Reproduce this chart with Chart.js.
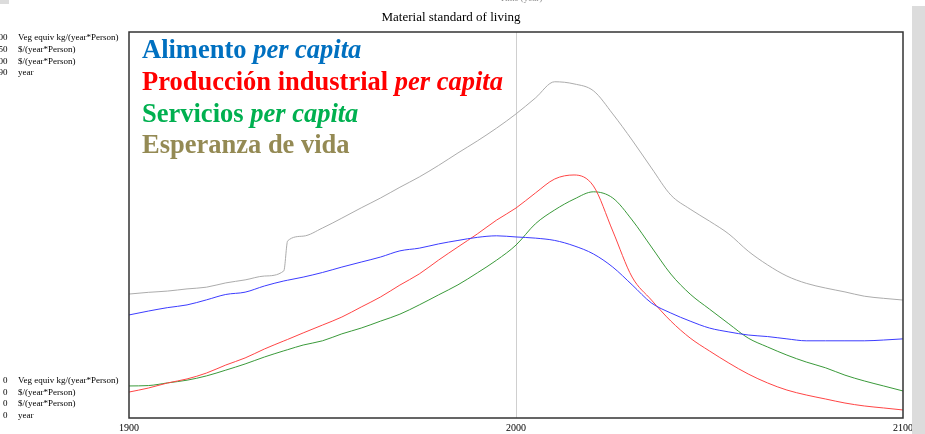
<!DOCTYPE html>
<html>
<head>
<meta charset="utf-8">
<script src="https://cdn.jsdelivr.net/npm/chart.js@4"></script>
<style>
  body { margin: 0; background: #fff; }
  canvas { display: block; }
</style>
</head>
<body>
<canvas id="myChart" width="925" height="434"></canvas>
<script>

var years = [1900,1905,1910,1915,1920,1925,1930,1935,1940,1941,1945,1950,1955,1960,1965,1970,1975,1980,1985,1990,1995,
             2000,2005,2010,2015,2020,2025,2030,2035,2040,2045,2050,2055,2060,2065,2070,2075,2080,2085,2090,2095,2100];

// Veg equiv kg/(year*Person), 0..1000
var food = [267,277,286,293,306,320,326,342,355,357,365,377,391,404,417,433,440,451,460,468,472,
            469,466,460,446,425,391,345,298,272,251,233,223,215,211,205,200,200,200,200,202,205];
// $/(year*Person), 0..250
var industry = [16.8,19.4,22.7,25.3,29.1,34.3,38.9,44.7,49.9,50.9,55.1,60.2,65.4,71.9,78.4,86.1,93.3,102.3,110.8,119.2,128.2,
                136.0,145.7,154.8,157.4,150.3,121.1,91.3,76.4,62.8,51.8,43.4,35.6,28.5,22.7,18.1,14.9,12.3,9.7,7.8,6.5,5.2];
// $/(year*Person), 0..1000
var services = [83,84,91,98,109,124,140,158,174,177,189,200,218,233,251,269,293,319,345,376,409,
                448,503,539,567,586,570,513,443,373,321,282,244,207,184,163,145,130,111,96,83,70];
// year, 0..90
var lifeExp = [28.9,29.3,29.6,30.1,30.5,31.5,32.2,33.1,34.3,41.3,42.4,44.3,46.6,49.0,51.3,53.8,56.2,58.9,61.8,64.6,67.6,
               70.9,74.6,78.4,77.9,76.3,70.9,64.8,58.3,52.0,48.7,45.9,42.9,38.9,35.7,33.1,31.4,30.3,29.4,28.4,27.9,27.5];

var axisMax = [1000, 250, 1000, 90];
var axisUnits = ["Veg equiv kg/(year*Person)", "$/(year*Person)", "$/(year*Person)", "year"];
var lineColors = ["#3c3cff", "#ff4545", "#3a9a3a", "#acacac"];

var legendLines = [
  ["Alimento ", "per capita", "#0070C0"],
  ["Producción industrial ", "per capita", "#FF0000"],
  ["Servicios ", "per capita", "#00B050"],
  ["Esperanza de vida", "", "#948A54"]
];

function pts(arr) {
  return years.map(function (y, i) { return { x: y, y: arr[i] }; });
}

var serif = "'Liberation Serif', 'Times New Roman', serif";

var decor = {
  id: "decor",
  beforeDraw: function (chart) {
    var c = chart.ctx;
    c.save();
    c.fillStyle = "#fff";
    c.fillRect(0, 0, chart.width, chart.height);
    c.restore();
  },
  afterDraw: function (chart) {
    var c = chart.ctx;
    var a = chart.chartArea;
    c.save();

    // plot frame
    c.strokeStyle = "#333";
    c.lineWidth = 1.5;
    c.strokeRect(a.left, a.top, a.right - a.left, a.bottom - a.top);

    // title
    c.fillStyle = "#000";
    c.font = "13px " + serif;
    c.textAlign = "center";
    c.textBaseline = "middle";
    c.fillText("Material standard of living", 451, 18);

    // clipped axis caption at the very top
    c.font = "9px " + serif;
    c.fillStyle = "#888";
    c.fillText("Time (year)", 521, -1);

    // left axis annotations
    c.fillStyle = "#000";
    c.font = "9px " + serif;
    var topY = [38, 50, 62, 73];
    var botY = [381, 393, 404, 416];
    for (var i = 0; i < 4; i++) {
      c.textAlign = "right";
      c.fillText(String(axisMax[i]), 7.5, topY[i]);
      c.fillText("0", 7.5, botY[i]);
      c.textAlign = "left";
      c.fillText(axisUnits[i], 18, topY[i]);
      c.fillText(axisUnits[i], 18, botY[i]);
    }

    // big legend text
    c.textAlign = "left";
    c.textBaseline = "alphabetic";
    var base = [58, 90, 122, 153];
    legendLines.forEach(function (l, k) {
      c.fillStyle = l[2];
      c.font = "bold 26.5px " + serif;
      c.fillText(l[0], 142, base[k]);
      var w = c.measureText(l[0]).width;
      if (l[1]) {
        c.font = "italic bold 26.5px " + serif;
        c.fillText(l[1], 142 + w, base[k]);
      }
    });

    // grey strip on the right
    c.fillStyle = "#dcdcdc";
    c.fillRect(912, 6, 13, chart.height - 6);
    c.fillRect(0, 0, 9, 4);
    c.restore();
  }
};

new Chart("myChart", {
  type: "line",
  data: {
    datasets: [
      { label: "Alimento per capita", data: pts(food), yAxisID: "yFood", borderColor: lineColors[0] },
      { label: "Producción industrial per capita", data: pts(industry), yAxisID: "yInd", borderColor: lineColors[1] },
      { label: "Servicios per capita", data: pts(services), yAxisID: "yServ", borderColor: lineColors[2] },
      { label: "Esperanza de vida", data: pts(lifeExp), yAxisID: "yLife", borderColor: lineColors[3] }
    ]
  },
  options: {
    responsive: false,
    animation: false,
    devicePixelRatio: 1,
    layout: { padding: { left: 129, right: 22, top: 32, bottom: 2 } },
    elements: {
      line: { borderWidth: 1, cubicInterpolationMode: "monotone", fill: false },
      point: { radius: 0 }
    },
    plugins: {
      legend: { display: false },
      title: { display: false },
      tooltip: { enabled: false }
    },
    scales: {
      x: {
        type: "linear",
        min: 1900,
        max: 2100,
        afterFit: function (s) { s.height = 14; },
        ticks: {
          stepSize: 100,
          color: "#000",
          font: { family: serif, size: 10 },
          padding: 4,
          maxRotation: 0,
          callback: function (v) { return String(v); }
        },
        grid: {
          drawTicks: false,
          color: function (ctx) { return ctx.tick && ctx.tick.value === 2000 ? "#cfcfcf" : "rgba(0,0,0,0)"; }
        },
        border: { display: false }
      },
      yFood: { display: false, min: 0, max: axisMax[0] },
      yInd: { display: false, min: 0, max: axisMax[1] },
      yServ: { display: false, min: 0, max: axisMax[2] },
      yLife: { display: false, min: 0, max: axisMax[3] }
    }
  },
  plugins: [decor]
});
</script>
</body>
</html>
